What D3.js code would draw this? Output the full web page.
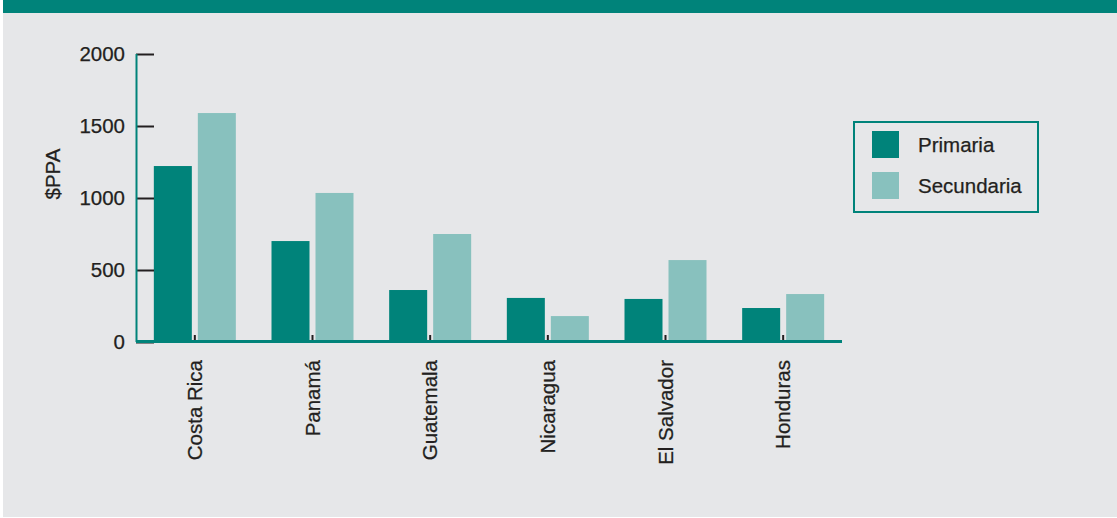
<!DOCTYPE html>
<html>
<head>
<meta charset="utf-8">
<script src="https://cdn.jsdelivr.net/npm/d3@7"></script>
<style>
  body { margin: 0; background: #fff; }
  svg { display: block; font-family: "Liberation Sans", Arial, Helvetica, sans-serif; }
  svg text { stroke: #231f20; stroke-width: 0.25px; }
</style>
</head>
<body>
<svg id="chart"></svg>
<script>
// datos
const paises = ["Costa Rica", "Panamá", "Guatemala", "Nicaragua", "El Salvador", "Honduras"];
const series = ["Primaria", "Secundaria"];
const primaria = [1222, 701, 361, 306, 299, 236];
const secundaria = [1590, 1035, 750, 180, 569, 333];
const yTicks = [0, 500, 1000, 1500, 2000];

const width = 1117, height = 518;
const teal = "#00837a", tealLight = "#88c1be", ink = "#231f20";
const fs = 20.5;

const svg = d3.select("#chart")
    .attr("width", width)
    .attr("height", height);

// fondo gris y franja superior
svg.append("rect").attr("x", 3).attr("y", 0).attr("width", width - 3).attr("height", 517).attr("fill", "#e6e7e9");
svg.append("rect").attr("x", 3).attr("y", 0).attr("width", width - 3).attr("height", 13).attr("fill", teal);

const x0 = d3.scaleBand().domain(paises).range([136, 842]).padding(0);
const x1 = d3.scaleBand().domain(series).range([-41, 41]).paddingInner(6 / 44).paddingOuter(0);
const y = d3.scaleLinear().domain([0, 2000]).range([342, 54]);
const color = d3.scaleOrdinal().domain(series).range([teal, tealLight]);

const rows = paises.map((p, i) => ({ pais: p, valores: [primaria[i], secundaria[i]] }));

// barras
const grupos = svg.append("g").selectAll("g")
    .data(rows)
    .enter()
    .append("g")
    .attr("transform", d => `translate(${x0(d.pais) + x0.bandwidth() / 2},0)`);

grupos.selectAll("rect")
    .data(d => d.valores.map((v, j) => ({ serie: series[j], v })))
    .enter()
    .append("rect")
    .attr("x", d => x1(d.serie))
    .attr("width", x1.bandwidth())
    .attr("y", d => y(d.v))
    .attr("height", d => y(0) - y(d.v))
    .attr("fill", d => color(d.serie));

// eje y
const yAxis = svg.append("g")
    .attr("transform", "translate(136,0)")
    .call(d3.axisRight(y).tickValues(yTicks).tickSize(18).tickFormat(""));
yAxis.select(".domain").remove();
yAxis.selectAll(".tick line").attr("stroke", ink).attr("stroke-width", 2);

svg.append("line")
    .attr("x1", 136.5).attr("x2", 136.5)
    .attr("y1", y(2000)).attr("y2", y(0))
    .attr("stroke", teal).attr("stroke-width", 2);

svg.append("g").selectAll("text")
    .data(yTicks)
    .enter()
    .append("text")
    .attr("x", 125)
    .attr("y", d => y(d))
    .attr("dy", "0.36em")
    .attr("text-anchor", "end")
    .attr("font-size", fs)
    .attr("fill", ink)
    .text(d => d);

svg.append("text")
    .attr("transform", "translate(60,174) rotate(-90)")
    .attr("text-anchor", "middle")
    .attr("font-size", fs)
    .attr("fill", ink)
    .text("$PPA");

// eje x
const xAxis = svg.append("g")
    .attr("transform", "translate(0,341)")
    .call(d3.axisTop(x0).tickSize(6).tickFormat(""));
xAxis.select(".domain").remove();
xAxis.selectAll(".tick line").attr("stroke", ink).attr("stroke-width", 2);

svg.append("line")
    .attr("x1", 136).attr("x2", 842)
    .attr("y1", 341.5).attr("y2", 341.5)
    .attr("stroke", teal).attr("stroke-width", 3);

svg.append("g").selectAll("text")
    .data(paises)
    .enter()
    .append("text")
    .attr("transform", d => `translate(${x0(d) + x0.bandwidth() / 2},360) rotate(-90)`)
    .attr("dy", "0.35em")
    .attr("text-anchor", "end")
    .attr("font-size", fs)
    .attr("fill", ink)
    .text(d => d);

// leyenda
const leyenda = svg.append("g");
leyenda.append("rect")
    .attr("x", 854).attr("y", 122)
    .attr("width", 184).attr("height", 90)
    .attr("fill", "none")
    .attr("stroke", teal).attr("stroke-width", 2);

const item = leyenda.selectAll("g.item")
    .data(series)
    .enter()
    .append("g")
    .attr("class", "item")
    .attr("transform", (d, i) => `translate(872,${131 + i * 41})`);

item.append("rect")
    .attr("width", 27).attr("height", 27)
    .attr("fill", d => color(d));

item.append("text")
    .attr("x", 46).attr("y", 14)
    .attr("dy", "0.36em")
    .attr("font-size", fs)
    .attr("fill", ink)
    .text(d => d);
</script>
</body>
</html>
